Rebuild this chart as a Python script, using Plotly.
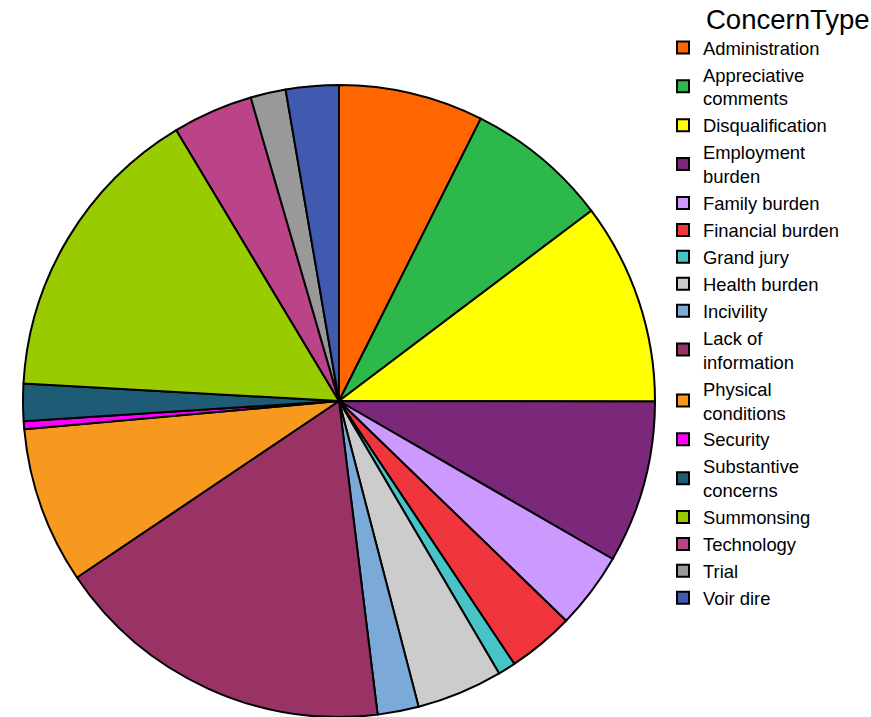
import plotly.graph_objects as go

# Share of comments by concern type (percent)
concern_types = [
    "Administration", "Appreciative<br>comments", "Disqualification",
    "Employment<br>burden", "Family burden", "Financial burden", "Grand jury",
    "Health burden", "Incivility", "Lack of<br>information",
    "Physical<br>conditions", "Security", "Substantive<br>concerns",
    "Summonsing", "Technology", "Trial", "Voir dire",
]
shares = [7.4, 7.3, 10.3, 8.3, 3.9, 3.4, 0.9, 4.4, 2.1, 17.5,
          8.0, 0.4, 1.9, 15.5, 4.1, 1.8, 2.7]
slice_colors = [
    "#FF6600", "#2DB84B", "#FFFF00", "#7B287B", "#CC99FF", "#F0353C",
    "#48C4C8", "#CCCCCC", "#7BAAD8", "#993366", "#F7991F", "#FF00FF",
    "#1D5C74", "#99CC00", "#BB4488", "#999999", "#3F5AAE",
]
legend_title = "ConcernType"

W, H = 871, 717
cx, cy, r = 339, 401, 316

fig = go.Figure(go.Pie(
    labels=concern_types,
    values=shares,
    sort=False,
    direction="clockwise",
    rotation=0,
    textinfo="none",
    hoverinfo="label+percent",
    marker=dict(colors=slice_colors, line=dict(color="black", width=2)),
    domain=dict(x=[(cx - r) / W, (cx + r) / W],
                y=[(H - cy - r) / H, (H - cy + r) / H]),
))

fig.update_layout(
    width=W, height=H,
    margin=dict(l=0, r=0, t=0, b=0),
    paper_bgcolor="white",
    font=dict(family="Liberation Sans, Arial, sans-serif", color="black"),
    legend=dict(
        font=dict(size=18.4),
        x=(703 - 40) / W, y=1 - 29 / H, xanchor="left", yanchor="top",
        traceorder="normal",
        itemwidth=30,
    ),
    showlegend=True,
    annotations=[dict(
        text=legend_title, x=704 / W, y=1 - 20 / H,
        xref="paper", yref="paper", xanchor="left", yanchor="middle",
        showarrow=False, font=dict(size=27.5),
    )],
)

fig.write_html("out.html")
